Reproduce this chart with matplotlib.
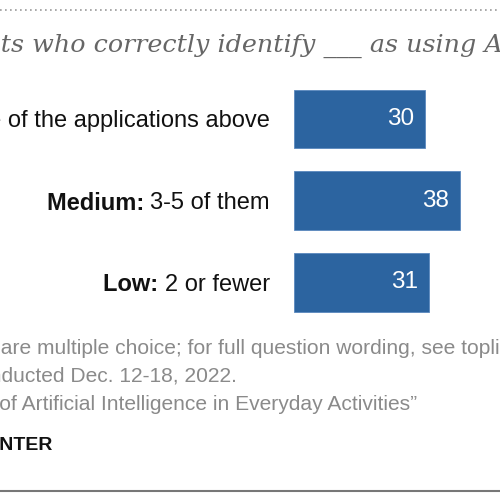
import matplotlib.pyplot as plt

# data
bold_parts = ["High:", "Medium:", "Low:"]
rest_parts = ["6 or more of the applications above", "3-5 of them", "2 or fewer"]
values = [30, 38, 31]

title_hidden = "% of U.S. adul"
title_shown = "ts who correctly identify ___ as using AI"
note1_hidden = "Note: Questions "
note1_shown = "are multiple choice; for full question wording, see topline."
note2 = "Source: Survey conducted Dec. 12-18, 2022."
note3 = "\u201cPublic Awareness of Artificial Intelligence in Everyday Activities\u201d"
brand = "PEW RESEARCH CENTER"

plt.rcParams['font.family'] = ['Liberation Sans', 'DejaVu Sans']

W, H = 500, 500
fig = plt.figure(figsize=(5, 5), dpi=100)
renderer = fig.canvas.get_renderer()


def fx(px):
    return px / W


def fy(py):
    return 1 - py / H


def prefix_width(prefix, **kw):
    # pixel width of a prefix, so the visible part can start at a chosen x
    t = fig.text(0, 0, prefix + "|", **kw)
    w1 = t.get_window_extent(renderer).width
    t.set_text("|")
    w2 = t.get_window_extent(renderer).width
    t.remove()
    return w1 - w2


# bars axes: left edge at x=294px, 4.36 px per unit
ax = fig.add_axes([fx(294), fy(320), fx(206), (320 - 80) / H])
ax.set_xlim(0, 206 / 4.36)
pos = list(range(len(values)))
ax.barh(pos, values, height=0.72, color='#2C64A0', edgecolor='#5A88BE', linewidth=0.6)
ax.set_ylim(2.46, -0.477)
for p, v in zip(pos, values):
    ax.text(v - 2.5, p, str(v), ha='right', va='center', color='white', fontsize=17.5)
ax.axis('off')

# category labels: bold prefix + regular text, right-aligned at x=270
lab_size = 17
for p, b, r in zip(pos, bold_parts, rest_parts):
    t = ax.annotate(r, xy=(fx(270), p + 0.03), xycoords=('figure fraction', 'data'),
                    ha='right', va='center', fontsize=lab_size, color='#111111')
    ax.annotate(b + " ", xy=(0, 0.5), xycoords=t, ha='right', va='center',
                fontsize=lab_size, fontweight='bold', color='#111111')

# dotted rule at top, solid rule at bottom
fig.add_artist(plt.Line2D([0, 1], [fy(10), fy(10)], color='#999999', lw=1.2,
                          linestyle=(0, (1, 2))))
fig.add_artist(plt.Line2D([0, 1], [fy(491), fy(491)], color='#777777', lw=1.5))

# title (cropped on both sides as in the reference)
title_kw = dict(fontsize=18.3, family=['DejaVu Serif'], style='italic', color='#666666')
tw = prefix_width(title_hidden, **title_kw)
fig.text(fx(1 - tw), fy(52), title_hidden + title_shown, ha='left', va='baseline',
         **title_kw)

note_kw = dict(fontsize=15.1, color='#8A8A8A')
nw = prefix_width(note1_hidden, **note_kw)
fig.text(fx(1 - nw), fy(348), note1_hidden + note1_shown, ha='left', va='center', **note_kw)
fig.text(fx(237), fy(377), note2, ha='right', va='center', **note_kw)
fig.text(fx(417), fy(405), note3, ha='right', va='center', **note_kw)

fig.text(fx(52), fy(445), brand, ha='right', va='center', fontsize=14,
         fontweight='bold', color='#111111')

fig.savefig('out.png', dpi=100)
